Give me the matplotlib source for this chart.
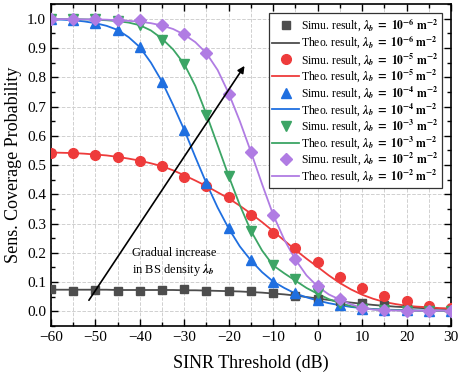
import numpy as np
import matplotlib
matplotlib.use('Agg')
import matplotlib.pyplot as plt
from matplotlib.ticker import MultipleLocator

plt.rcParams['font.family'] = 'Liberation Serif'
plt.rcParams['mathtext.fontset'] = 'stix'

# SINR threshold (dB)
x_sim = [-60, -55, -50, -45, -40, -35, -30, -25, -20, -15, -10, -5, 0, 5, 10, 15, 20, 25, 30]
x_theo = np.arange(-60, 30.1, 2.5)

# simulation results
sim_6 = [0.077, 0.070, 0.073, 0.071, 0.071, 0.073, 0.076, 0.070, 0.070, 0.068, 0.062, 0.053,
         0.042, 0.034, 0.030, 0.022, 0.012, 0.007, 0.006]
sim_5 = [0.541, 0.541, 0.536, 0.529, 0.514, 0.497, 0.460, 0.430, 0.390, 0.330, 0.269, 0.217,
         0.170, 0.118, 0.079, 0.051, 0.034, 0.019, 0.011]
sim_4 = [0.998, 0.995, 0.985, 0.962, 0.903, 0.785, 0.619, 0.438, 0.284, 0.177, 0.102, 0.062,
         0.039, 0.022, 0.008, 0.004, 0.003, 0.002, 0.002]
sim_3 = [0.999, 0.999, 0.998, 0.993, 0.980, 0.929, 0.845, 0.672, 0.462, 0.273, 0.158, 0.109,
         0.062, 0.027, 0.008, 0.003, 0.002, 0.001, 0.001]
sim_2 = [0.998, 0.998, 0.998, 0.997, 0.995, 0.978, 0.947, 0.883, 0.744, 0.543, 0.329, 0.180,
         0.086, 0.042, 0.011, 0.003, 0.002, 0.002, 0.002]

# theoretical results
theo_6 = [0.074, 0.074, 0.074, 0.074, 0.074, 0.074, 0.073, 0.073, 0.073, 0.073, 0.073, 0.073,
          0.072, 0.072, 0.071, 0.070, 0.069, 0.068, 0.066, 0.064, 0.061, 0.058, 0.054, 0.049,
          0.044, 0.039, 0.034, 0.030, 0.026, 0.022, 0.019, 0.016, 0.014, 0.012, 0.010, 0.009, 0.008]
theo_5 = [0.543, 0.542, 0.541, 0.539, 0.536, 0.533, 0.528, 0.522, 0.515, 0.506, 0.496, 0.482,
          0.465, 0.447, 0.428, 0.407, 0.386, 0.361, 0.334, 0.305, 0.274, 0.242, 0.210, 0.180,
          0.152, 0.123, 0.097, 0.075, 0.057, 0.043, 0.032, 0.025, 0.019, 0.016, 0.014, 0.011, 0.010]
theo_4 = [0.998, 0.997, 0.995, 0.991, 0.985, 0.976, 0.962, 0.937, 0.903, 0.850, 0.785, 0.705,
          0.620, 0.527, 0.437, 0.355, 0.283, 0.222, 0.174, 0.134, 0.102, 0.080, 0.061, 0.048,
          0.037, 0.028, 0.021, 0.015, 0.011, 0.008, 0.006, 0.005, 0.004, 0.003, 0.003, 0.002, 0.002]
theo_3 = [0.999, 0.999, 0.999, 0.998, 0.997, 0.995, 0.992, 0.987, 0.978, 0.960, 0.932, 0.895,
          0.845, 0.770, 0.673, 0.568, 0.462, 0.363, 0.275, 0.208, 0.157, 0.130, 0.105, 0.080,
          0.060, 0.042, 0.028, 0.018, 0.011, 0.007, 0.005, 0.004, 0.003, 0.002, 0.002, 0.001, 0.001]
theo_2 = [0.999, 0.999, 0.999, 0.998, 0.998, 0.997, 0.995, 0.993, 0.990, 0.985, 0.977, 0.965,
          0.946, 0.920, 0.882, 0.825, 0.745, 0.650, 0.545, 0.435, 0.330, 0.245, 0.177, 0.123,
          0.085, 0.058, 0.040, 0.024, 0.012, 0.006, 0.004, 0.003, 0.002, 0.002, 0.002, 0.002, 0.002]

exps = ['-6', '-5', '-4', '-3', '-2']
colors = ['#4D4D4D', '#EE3B3B', '#1F6FE0', '#3CA565', '#B07CE3']
markers = ['s', 'o', '^', 'v', 'D']
msizes = [6, 7, 7.5, 7.5, 6.5]
sims = [sim_6, sim_5, sim_4, sim_3, sim_2]
theos = [theo_6, theo_5, theo_4, theo_3, theo_2]

fig = plt.figure(figsize=(4.63, 3.78), dpi=100)
ax = fig.add_subplot(111)
fig.subplots_adjust(left=0.110, right=0.974, top=0.989, bottom=0.1376)

lam_sym = r'\mathbfit{\lambda}_{\mathbfit{b}}'
for e, c, m, ms, s, t in zip(exps, colors, markers, msizes, sims, theos):
    lam = r'$%s\ \mathbf{=}\ \mathbf{10^{%s}}\ \mathbf{m^{-2}}$' % (lam_sym, e)
    ax.plot(x_sim, s, linestyle='none', marker=m, markersize=ms, color=c,
            label='Simu. result, ' + lam, zorder=3)
    ax.plot(x_theo, t, color=c, linewidth=1.3, label='Theo. result, ' + lam, zorder=2)

ax.annotate('', xy=(-16.1, 0.847), xytext=(-51.8, 0.030),
            arrowprops=dict(arrowstyle='-|>', color='k', lw=1.2, mutation_scale=10))
ax.text(-41.8, 0.168, 'Gradual increase\nin BS density $%s$' % lam_sym,
        fontsize=9, va='center', ha='left', linespacing=1.3)

ax.set_xlim(-60, 30)
ax.set_ylim(-0.05, 1.05)
ax.xaxis.set_major_locator(MultipleLocator(10))
ax.xaxis.set_minor_locator(MultipleLocator(5))
ax.yaxis.set_major_locator(MultipleLocator(0.1))
ax.yaxis.set_minor_locator(MultipleLocator(0.05))
ax.tick_params(which='both', direction='in', top=True, right=True, labelsize=11)
ax.tick_params(which='major', length=5, width=1)
ax.tick_params(which='minor', length=3, width=1)
ax.grid(True, which='major', linestyle='--', color='#d0d0d0', linewidth=0.7)
ax.grid(True, which='minor', axis='x', linestyle='--', color='#d0d0d0', linewidth=0.7)
ax.set_axisbelow(True)
for sp in ax.spines.values():
    sp.set_linewidth(1.2)

ax.set_xlabel('SINR Threshold (dB)', fontsize=13, labelpad=8)
ax.set_ylabel('Sens. Coverage Probability', fontsize=13)

leg = ax.legend(loc='upper right', fontsize=8.4, labelspacing=0.0, handlelength=2.3,
                handletextpad=0.2, borderpad=0.3, borderaxespad=0.75, fancybox=False,
                framealpha=1, edgecolor='#333333')
leg.get_frame().set_linewidth(0.9)

fig.savefig('out.png', dpi=100)
